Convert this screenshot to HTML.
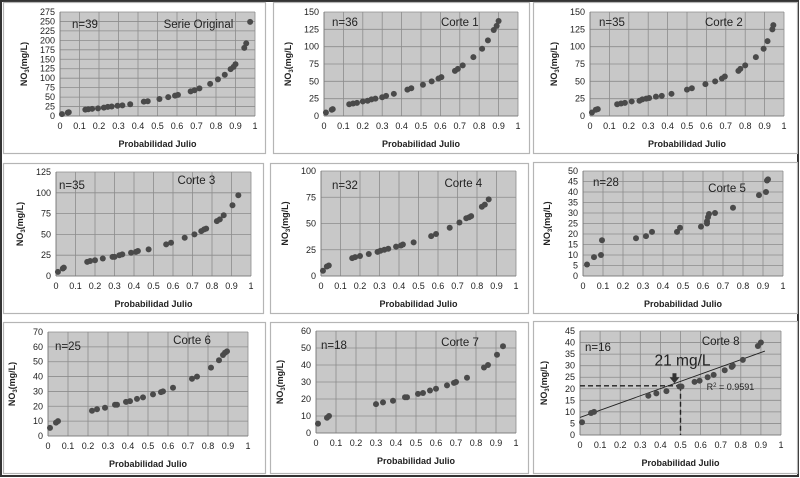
<!DOCTYPE html>
<html><head><meta charset="utf-8"><style>
html,body{margin:0;padding:0;background:#fff}
svg{display:block;font-family:"Liberation Sans",sans-serif}
</style></head><body>
<svg id="fig" width="800" height="478" viewBox="0 0 800 478" xmlns="http://www.w3.org/2000/svg">
<rect x="1" y="1" width="797" height="475" fill="#fff" stroke="#333" stroke-width="2"/>
</svg>
<script>
// ---- data ----
const titles = ["Serie Original","Corte 1","Corte 2","Corte 3","Corte 4","Corte 5","Corte 6","Corte 7","Corte 8"];
const nLabels = ["n=39","n=36","n=35","n=35","n=32","n=28","n=25","n=18","n=16"];
const yMaxes = [275,150,150,125,100,50,70,60,45];
const yStepsArr = [25,25,25,25,25,5,10,10,5];
const xTicks = ["0","0.1","0.2","0.3","0.4","0.5","0.6","0.7","0.8","0.9","1"];
const x0 = [0.01,0.04,0.045,0.13,0.145,0.165,0.195,0.225,0.245,0.265,0.295,0.32,0.36,0.43,0.45,0.51,0.555,0.59,0.605,0.67,0.69,0.715,0.77,0.81,0.845,0.875,0.89,0.9,0.945,0.955,0.975];
const y0 = [5,9,10,17,18,19,20,22,24,25,27,28,31,38,39,45,50,54,56,65,68,73,85,97,109,124,130,137,180,192,249];
const x1 = [0.01,0.04,0.045,0.13,0.15,0.17,0.2,0.225,0.245,0.265,0.3,0.32,0.36,0.43,0.45,0.51,0.555,0.59,0.605,0.675,0.69,0.715,0.77,0.815,0.845,0.875,0.89,0.9];
const y1 = [5,9,10,17,18,19,21,22,24,25,27,29,32,38,40,45,50,54,56,65,68,73,85,97,109,124,130,137];
const x2 = [0.01,0.03,0.04,0.14,0.16,0.18,0.215,0.255,0.27,0.29,0.305,0.34,0.37,0.42,0.5,0.525,0.595,0.645,0.68,0.695,0.765,0.775,0.8,0.855,0.895,0.915,0.94,0.945];
const y2 = [5,9,10,17,18,19,21,22,24,25,26,28,29,32,38,40,46,50,54,57,65,68,73,85,97,108,125,131];
const x3 = [0.01,0.035,0.04,0.16,0.175,0.2,0.24,0.29,0.3,0.325,0.34,0.385,0.41,0.42,0.475,0.565,0.59,0.66,0.71,0.745,0.76,0.77,0.825,0.84,0.86,0.905,0.935];
const y3 = [5,9,10,17,18,19,21,23,23,25,26,28,29,30,32,38,40,46,50,54,56,57,66,68,73,85,97];
const x4 = [0.01,0.03,0.04,0.16,0.175,0.2,0.245,0.29,0.305,0.325,0.345,0.385,0.41,0.42,0.475,0.565,0.59,0.66,0.71,0.745,0.76,0.77,0.825,0.84,0.86];
const y4 = [5,9,10,17,18,19,21,23,24,25,26,28,29,30,32,38,40,46,51,55,56,57,66,68,73];
const x5 = [0.02,0.055,0.09,0.095,0.265,0.315,0.345,0.47,0.485,0.59,0.62,0.62,0.625,0.63,0.66,0.75,0.88,0.915,0.92,0.925];
const y5 = [5.5,9,10,17,18,19,21,21,23,23.5,25,26,28,29.5,30,32.5,38.5,40,45.5,46];
const x6 = [0.01,0.04,0.05,0.22,0.245,0.285,0.335,0.345,0.39,0.41,0.445,0.475,0.525,0.565,0.575,0.625,0.72,0.745,0.815,0.855,0.875,0.885,0.895];
const y6 = [5.5,9,10,17,18,19,21,21,23,23.5,25,26,28,29.5,30,32.5,38.5,40,46,51,54.5,56,57];
const x7 = [0.01,0.055,0.065,0.3,0.335,0.385,0.445,0.455,0.51,0.535,0.57,0.6,0.655,0.69,0.7,0.755,0.84,0.86,0.905,0.935];
const y7 = [5.5,9,10,17,18,19,21,21,23,23.5,25,26,28,29.5,30,32.5,38.5,40,46,51];
const x8 = [0.01,0.055,0.07,0.34,0.38,0.43,0.495,0.505,0.57,0.595,0.635,0.665,0.72,0.755,0.76,0.81,0.885,0.9];
const y8 = [5.5,9.5,10,17,18,19,21,21,23,23.5,25,26,28,29.5,30,32.5,38.5,40];
const trendIntercept = 7.6;
const trendSlope = 31.2;
const cutValue = 21.3;
const cutProb = 0.5;
const xsAll = [x0,x1,x2,x3,x4,x5,x6,x7,x8];
const ysAll = [y0,y1,y2,y3,y4,y5,y6,y7,y8];

// ---- layout ----
const boxes = [[3,2,262,151],[273,2,256,151],[533,2,264,151],[3,163,260,150],[270,163,258,150],[533,162,264,151],[3,322,262,151],[270,322,258,151],[533,321,264,152]];
const plots = [[60,12,255,116],[324,12,518,116],[590,12,784,116],[56,172,251,276],[321,171,516,276],[583,171,783,276],[48,332,248,436],[316,331,516,433],[580,331,781,435]];
const nOff = [[12,16],[8,14],[9,14],[3,17],[11,18],[10,15],[7,18],[5,18],[5,20]];
const tOff = [[0.71,16],[0.70,14],[0.69,14],[0.72,12],[0.73,16],[0.72,21],[0.72,12],[0.72,15],[0.70,14]];
const svg = document.getElementById('fig');
const NS = 'http://www.w3.org/2000/svg';
function mk(tag, attrs, parent){const e=document.createElementNS(NS,tag);for(const k in attrs)e.setAttribute(k,attrs[k]);(parent||svg).appendChild(e);return e;}

for(let i=0;i<9;i++){
  const g = mk('g',{});
  
  
  const b = boxes[i];
  const r = mk('rect',{x:b[0]+0.5,y:b[1]+0.5,width:b[2],height:b[3],fill:'#fff',stroke:'#b5b5b5','stroke-width':1.2},g);
  
  
  const [L,T,R,B] = plots[i];
  const ymax = yMaxes[i], step = yStepsArr[i];
  const sx = v => L + v*(R-L);
  const sy = v => B - v/ymax*(B-T);
  const bg = mk('rect',{x:L,y:T,width:R-L,height:B-T,fill:'#c8c8c8'},g);
  
  
  for(let k=0;k<xTicks.length;k++){
    const xv = k/10;
    mk('line',{x1:sx(xv),x2:sx(xv),y1:T,y2:B,stroke:'#8c8c8c','stroke-width':0.8},g);
    const t = mk('text',{x:sx(xv),y:B+13,'font-size':9,'text-anchor':'middle',fill:'#222'},g);
    t.textContent = xTicks[k];
    
    
  }
  for(let v=0; v<=ymax+1e-9; v+=step){
    mk('line',{x1:L,x2:R,y1:sy(v),y2:sy(v),stroke:'#8c8c8c','stroke-width':0.8},g);
    const t = mk('text',{x:L-5,y:sy(v)+3,'font-size':9,'text-anchor':'end',fill:'#222'},g);
    t.textContent = String(v);
    
    
  }
  mk('line',{x1:L,x2:L,y1:T,y2:B,stroke:'#777','stroke-width':0.8},g);
  mk('line',{x1:L,x2:R,y1:B,y2:B,stroke:'#777','stroke-width':0.8},g);
  const xt = mk('text',{x:(L+R)/2,y:B+31,'font-size':9,'font-weight':'bold','text-anchor':'middle',fill:'#222'},g);
  xt.textContent = 'Probabilidad Julio';
  
  
  const cy = (T+B)/2, cx = L-33;
  const yt = mk('text',{x:cx,y:cy,'font-size':9,'font-weight':'bold','text-anchor':'middle',fill:'#222',transform:'rotate(-90 '+cx+' '+cy+')'},g);
  yt.innerHTML = 'NO<tspan font-size="6" dy="2">3</tspan><tspan dy="-2">(mg/L)</tspan>';
  
  
  const nl = mk('text',{x:L+nOff[i][0],y:T+nOff[i][1],'font-size':11.5,fill:'#222'},g);
  nl.textContent = nLabels[i];
  
  
  const tl = mk('text',{x:sx(tOff[i][0]),y:T+tOff[i][1],'font-size':11.5,'text-anchor':'middle',fill:'#222'},g);
  tl.textContent = titles[i];
  
  
  if(i==8){
    const tr = mk('line',{x1:sx(0),y1:sy(trendIntercept),x2:sx(0.92),y2:sy(trendIntercept+trendSlope*0.92),stroke:'#222','stroke-width':0.9},g);
    
    
    const h = mk('line',{x1:sx(0),y1:sy(cutValue),x2:sx(cutProb),y2:sy(cutValue),stroke:'#222','stroke-width':1.4,'stroke-dasharray':'5,3'},g);
    
    
    const v = mk('line',{x1:sx(cutProb),y1:sy(cutValue),x2:sx(cutProb),y2:B,stroke:'#222','stroke-width':1.4,'stroke-dasharray':'5,3'},g);
    
    
    const ax = sx(0.47), ay = sy(cutValue+1.5);
    const ar = mk('path',{d:`M${ax-2} ${ay-9} h4 v4 h3 l-5 6 l-5 -6 h3 z`,fill:'#333'},g);
    
    
    const lab = mk('text',{x:sx(0.51),y:sy(30),'font-size':15.5,'text-anchor':'middle',fill:'#222'},g);
    lab.textContent = '21 mg/L';
    
    
    const r2 = mk('text',{x:sx(0.63),y:sy(19.5),'font-size':9,fill:'#222'},g);
    r2.innerHTML = 'R<tspan font-size="6" dy="-3">2</tspan><tspan dy="3"> = 0.9591</tspan>';
    
    
  }
  const xs = xsAll[i], ys = ysAll[i];
  for(let k=0;k<xs.length;k++){
    const c = mk('circle',{cx:sx(xs[k]),cy:sy(ys[k]),r:3,fill:'#4a4a4a'},g);
    
    
  }
}
</script>
</body></html>
